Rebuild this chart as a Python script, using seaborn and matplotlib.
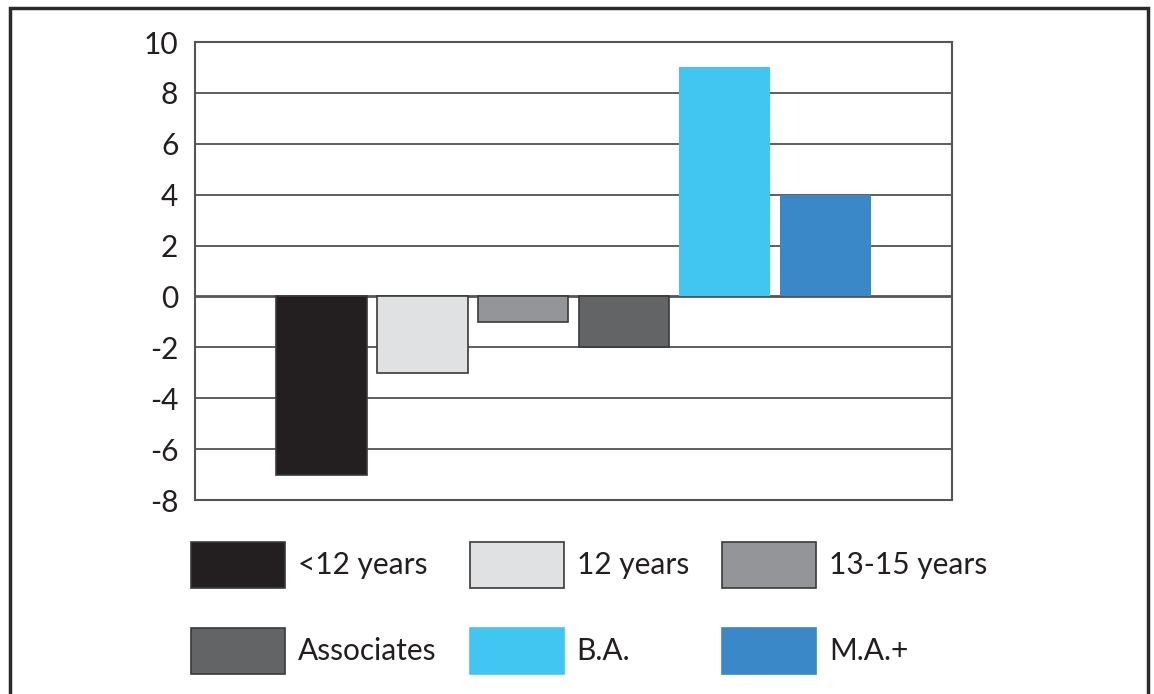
import matplotlib
matplotlib.use("Agg")
import matplotlib.pyplot as plt
import seaborn as sns
import pandas as pd
from matplotlib.patches import Patch, Rectangle

categories = ["<12 years", "12 years", "13-15 years", "Associates", "B.A.", "M.A.+"]
values = [-7, -3, -1, -2, 9, 4]
colors = ["#231f20", "#e0e1e2", "#939598", "#636466", "#41c6f2", "#3b88c8"]
edges = ["#3a3a3a", "#3a3a3a", "#3a3a3a", "#3a3a3a", "none", "none"]
yticks = [-8, -6, -4, -2, 0, 2, 4, 6, 8, 10]

sns.set_theme(style="white")
plt.rcParams['font.family'] = ['Lato', 'DejaVu Sans']

W, H = 1154, 694
FS = 21.5
fig = plt.figure(figsize=(W / 100, H / 100), dpi=100)
ax = fig.add_axes([195 / W, 1 - 500 / H, (952 - 195) / W, (500 - 42) / H])

df = pd.DataFrame({"cat": categories, "val": values})
sns.barplot(data=df, x="cat", y="val", hue="cat", palette=dict(zip(categories, colors)),
            order=categories, hue_order=categories, width=0.9, dodge=False,
            saturation=1, legend=False, ax=ax, zorder=3)
for p, ec in zip(ax.patches, edges):
    if ec == "none":
        p.set_edgecolor(p.get_facecolor())
        p.set_linewidth(0)
    else:
        p.set_edgecolor(ec)
        p.set_linewidth(1.2)

ax.set_xlim(-1.25, 6.25)
ax.set_ylim(-8, 10)
ax.set_yticks(yticks)
ax.set_yticklabels([str(v) for v in yticks], fontsize=FS, color="#231f20")
ax.set_xticks([])
ax.set_xlabel("")
ax.set_ylabel("")
ax.tick_params(axis="y", length=0, pad=12)
for v in yticks[1:-1]:
    ax.axhline(v, color="#555555" if v == 0 else "#333333",
               lw=2.0 if v == 0 else 1.1, zorder=2)
for s in ax.spines.values():
    s.set_color("#555555")
    s.set_linewidth(1.5)
    s.set_visible(True)

handles = [Patch(facecolor=c, edgecolor=(e if e != "none" else c), linewidth=1.2)
           for c, e in zip(colors, edges)]
order = [0, 3, 1, 4, 2, 5]
leg = fig.legend([handles[i] for i in order], [categories[i] for i in order],
                 ncol=3, loc="upper left", bbox_to_anchor=(185 / W, 1 - 536 / H),
                 frameon=False, fontsize=FS, handlelength=3.15, handleheight=1.99,
                 handletextpad=0.44, columnspacing=1.1, labelspacing=1.33,
                 borderaxespad=0, borderpad=0.2)
for t in leg.get_texts():
    t.set_color("#231f20")

fig.add_artist(Rectangle((10 / W, -0.05), (1148 - 10) / W, 1.05 - 8 / H,
                         transform=fig.transFigure, fill=False,
                         edgecolor="#2b2b2b", linewidth=2.5))

fig.savefig("out.png", dpi=100)
